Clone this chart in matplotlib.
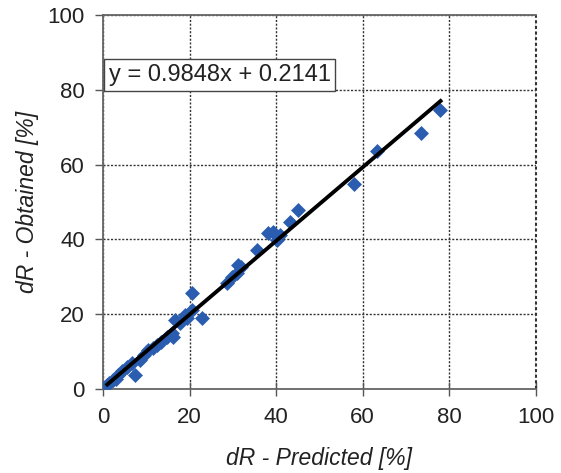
import numpy as np
import matplotlib
matplotlib.use('Agg')
import matplotlib.pyplot as plt

plt.rcParams['font.family'] = ['Liberation Sans', 'DejaVu Sans']

# predicted vs obtained dR values [%]
pred = [1.0, 1.5, 2.4, 3.0, 3.5, 4.5, 5.5, 6.6, 7.4, 8.5, 9.5, 10.5, 11.6, 12.4, 13.5,
        14.7, 15.9, 16.2, 16.6, 17.8, 18.9, 19.5, 20.5, 20.5, 22.8, 28.6, 29.7, 30.9,
        31.3, 32.0, 35.5, 38.2, 39.3, 40.1, 40.9, 43.2, 45.1, 58.0, 63.3, 73.4, 77.8]
obt = [1.2, 1.5, 2.4, 2.8, 3.7, 4.8, 6.0, 6.9, 3.7, 7.8, 9.1, 10.4, 11.0, 11.8, 12.6,
       14.0, 14.9, 14.0, 18.4, 17.6, 19.8, 19.0, 21.1, 25.8, 18.9, 28.3, 30.0, 30.9,
       33.3, 32.5, 37.2, 41.6, 42.1, 39.8, 41.2, 44.7, 47.9, 54.8, 63.7, 68.6, 74.6]
slope = 0.9848
icpt = 0.2141
fit_x = [1.0, 78.0]

fig = plt.figure(figsize=(5.61, 4.73), dpi=100)
ax = fig.add_axes([0.1836, 0.1776, 0.7714, 0.7904])

ax.scatter(pred, obt, marker='D', s=58, color='#2a5db0', zorder=3, linewidths=0)
fx = np.array(fit_x)
ax.plot(fx, slope * fx + icpt, color='black', lw=2.8, zorder=4)

ax.set_xlim(0, 100)
ax.set_ylim(0, 100)
ax.set_xticks(range(0, 101, 20))
ax.set_yticks(range(0, 101, 20))
ax.grid(True, color='#333333', linestyle=(0, (1.5, 1.2)), linewidth=1.0)
ax.set_axisbelow(True)

for s in ['left', 'bottom', 'top']:
    ax.spines[s].set_color('#666666')
    ax.spines[s].set_linewidth(1.3)
ax.spines['right'].set_visible(False)
ax.axvline(100, color='#333333', linestyle=(0, (1.5, 1.2)), linewidth=1.5, clip_on=False)

ax.tick_params(axis='x', direction='inout', length=10, width=1, colors='#555555',
               labelcolor='#222222', labelsize=16, pad=8)
ax.tick_params(axis='y', direction='out', length=6, width=1, colors='#555555',
               labelcolor='#222222', labelsize=16, pad=7)

ax.set_xlabel('dR - Predicted [%]', fontsize=16.5, style='italic', color='#222222', labelpad=14)
ax.set_ylabel('dR - Obtained [%]', fontsize=16.5, style='italic', color='#222222', labelpad=6)

ax.text(1.3, 84.0, 'y = 0.9848x + 0.2141', fontsize=17, color='#222222', va='center', ha='left',
        bbox=dict(boxstyle='square,pad=0.2', facecolor='white', edgecolor='#444444', linewidth=1))

fig.savefig('out.png', dpi=100)
